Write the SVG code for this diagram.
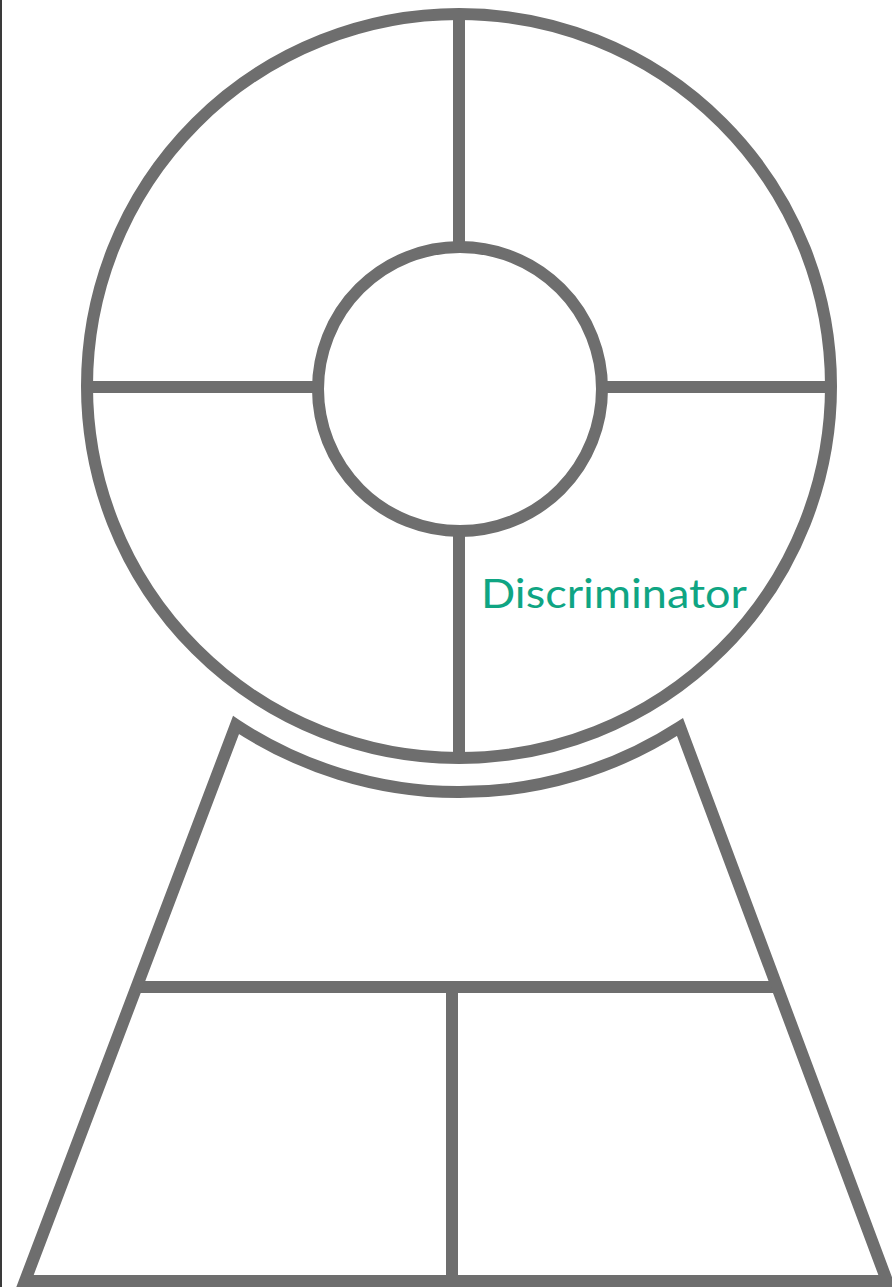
<svg xmlns="http://www.w3.org/2000/svg" width="892" height="1287" viewBox="0 0 892 1287">
<style>
.s{fill:none;stroke:#6e6e6e;stroke-width:12;stroke-linejoin:miter}
.t{font-family:Lato,"Noto Sans",sans-serif;font-size:41px;fill:#0fa583}
</style>
<rect x="0" y="0" width="892" height="1287" fill="#ffffff"/>
<rect x="0" y="0" width="2" height="1287" fill="#3a3a3a"/>
<g id="wheel">
<circle class="s" cx="459" cy="386" r="372"/>
<circle class="s" cx="460" cy="389" r="142"/>
</g>
<g id="connectors">
<line class="s" x1="459" y1="14" x2="459" y2="248"/>
<line class="s" x1="459" y1="530" x2="459" y2="758"/>
<line class="s" x1="87" y1="387" x2="318" y2="387"/>
<line class="s" x1="602" y1="387" x2="831" y2="387"/>
<line class="s" x1="136" y1="987" x2="777" y2="987"/>
<line class="s" x1="452" y1="987" x2="452" y2="1281"/>
</g>
<g id="base">
<path class="s" d="M 236 725 A 406 406 0 0 0 680 727 L 887 1281 L 25 1281 Z"/>
</g>
<g id="label">
<text class="t" x="481" y="608" textLength="266" lengthAdjust="spacingAndGlyphs">Discriminator</text>
</g>
</svg>
